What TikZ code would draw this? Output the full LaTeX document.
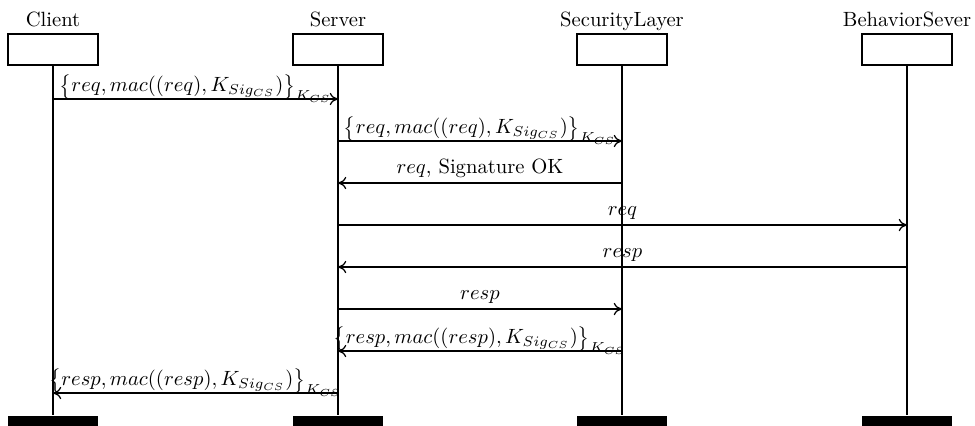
\documentclass[tikz,border=0pt]{standalone}
\usetikzlibrary{arrows.meta}
\begin{document}
\begin{tikzpicture}[x=0.485pt,y=-0.485pt, line width=0.6pt,
  objbox/.style={draw, minimum width=43.65pt, minimum height=15pt, inner sep=0pt},
  endbar/.style={fill=black, minimum width=44pt, minimum height=5pt, inner sep=0pt},
  objname/.style={anchor=base, inner sep=0pt},
  msg/.style={-{To[length=4pt,width=6pt]}},
  plbl/.style={midway, anchor=base, inner sep=0pt, yshift=4.4pt},
  blbl/.style={midway, anchor=base, inner sep=0pt, yshift=3.5pt}]
\useasboundingbox (0,0) rectangle (975,425);

% objects
\node[objbox] (cb) at (53,49.5) {};
\node[objbox] (sb) at (338,49.5) {};
\node[objbox] (lb) at (622,49.5) {};
\node[objbox] (bb) at (907,49.5) {};
\node[objname] (cn) at (53,26) {Client};
\node[objname] (sn) at (338,26) {Server};
\node[objname] (ln) at (622,26) {SecurityLayer};
\node[objname] (bn) at (907,26) {BehaviorSever};

% end bars
\node[endbar] (ce) at (53,421) {};
\node[endbar] (se) at (338,421) {};
\node[endbar] (le) at (622,421) {};
\node[endbar] (be) at (907,421) {};

% lifelines
\draw (cb.south) -- (ce.north);
\draw (sb.south) -- (se.north);
\draw (lb.south) -- (le.north);
\draw (bb.south) -- (be.north);

% message end points
\coordinate (c1) at (53,99);   \coordinate (s1) at (338,99);
\coordinate (s2) at (338,141); \coordinate (l2) at (622,141);
\coordinate (l3) at (622,183); \coordinate (s3) at (338,183);
\coordinate (s4) at (338,225); \coordinate (b4) at (907,225);
\coordinate (b5) at (907,267); \coordinate (s5) at (338,267);
\coordinate (s6) at (338,309); \coordinate (l6) at (622,309);
\coordinate (l7) at (622,351); \coordinate (s7) at (338,351);
\coordinate (s8) at (338,393); \coordinate (c8) at (53,393);

\draw[msg] (c1) -- node[blbl] {$\big\{req, mac((req), K_{Sig_{CS}})\big\}_{K_{CS}}$} (s1);
\draw[msg] (s2) -- node[blbl] {$\big\{req, mac((req), K_{Sig_{CS}})\big\}_{K_{CS}}$} (l2);
\draw[msg] (l3) -- node[plbl] {$req$, Signature OK} (s3);
\draw[msg] (s4) -- node[plbl] {$req$} (b4);
\draw[msg] (b5) -- node[plbl] {$resp$} (s5);
\draw[msg] (s6) -- node[plbl] {$resp$} (l6);
\draw[msg] (l7) -- node[blbl] {$\big\{resp, mac((resp), K_{Sig_{CS}})\big\}_{K_{CS}}$} (s7);
\draw[msg] (s8) -- node[blbl] {$\big\{resp, mac((resp), K_{Sig_{CS}})\big\}_{K_{CS}}$} (c8);
\end{tikzpicture}
\end{document}
